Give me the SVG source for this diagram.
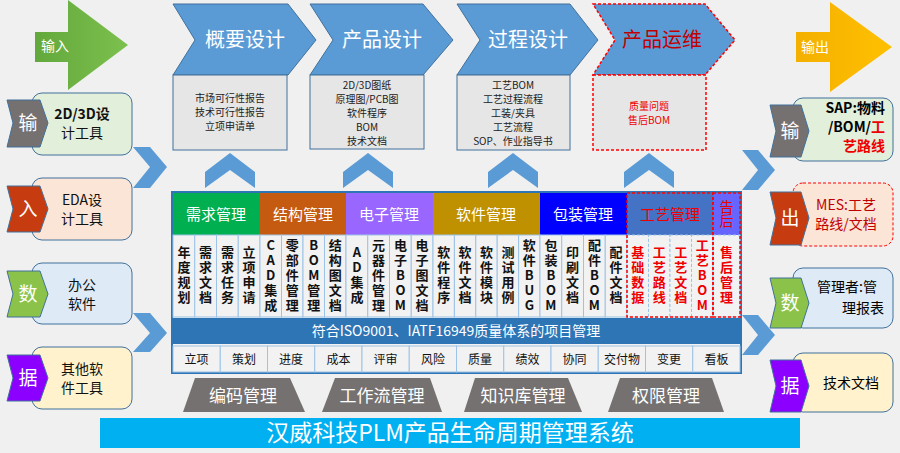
<svg xmlns="http://www.w3.org/2000/svg" width="900" height="453" viewBox="0 0 900 453">
<defs>
<style>
text{font-family:"Noto Sans CJK SC","Liberation Sans",sans-serif}
.chev{fill:#5b9bd5;stroke:#41719c;stroke-width:1}
.box{fill:#e7e6e6;stroke:#41719c;stroke-width:1}
.red{stroke:#ff0000;stroke-dasharray:3,2;stroke-width:1.5}
.ct{font-size:20px;fill:#fff;text-anchor:middle}
.bt{font-size:10px;fill:#222;text-anchor:middle}
.up{fill:#5b9bd5}
.hd{font-size:15px;fill:#fff;text-anchor:middle}
.cell{fill:#f2f2f2;stroke:#9dc3e6;stroke-width:1}
.vt,.vr{font-size:13px;text-anchor:middle;font-weight:bold;writing-mode:vertical-rl;text-orientation:upright;letter-spacing:2px}
.vt{fill:#111}
.vr{fill:#e00}
.sc{font-size:12px;fill:#111;text-anchor:middle}
.tab{font-size:19px;fill:#fff;text-anchor:middle}
.lb{font-size:14px;fill:#111;text-anchor:middle}
.trap{fill:#767171}
.tt{font-size:17px;fill:#fff;text-anchor:middle}
</style>
<linearGradient id="gG" x1="0" y1="0" x2="1" y2="0"><stop offset="0" stop-color="#63a83c"/><stop offset="1" stop-color="#7cc04e"/></linearGradient>
<linearGradient id="gY" x1="0" y1="0" x2="1" y2="0"><stop offset="0" stop-color="#f4b000"/><stop offset="1" stop-color="#ffc000"/></linearGradient>
</defs>
<rect width="900" height="453" fill="#f0f0f0"/>

<g id="input-arrow"><path d="M35,32 H68 V0 L128,45 L68,90 V62 H35 Z" fill="url(#gG)"/><text x="55" y="51" font-size="14" fill="#fff" text-anchor="middle">输入</text></g>
<g id="output-arrow"><path d="M796,32 H830 V2 L892,47 L830,92 V62 H796 Z" fill="url(#gY)"/><text x="815" y="52" font-size="14" fill="#fff" text-anchor="middle">输出</text></g>

<g id="stage1"><path class="chev" d="M173,4 H288 L316,40 L288,75 H173 L195,40 Z"/><text class="ct" x="245" y="47">概要设计</text>
<rect class="box" x="173" y="75" width="114" height="75"/><text class="bt" x="230" y="102">市场可行性报告</text><text class="bt" x="230" y="116">技术可行性报告</text><text class="bt" x="230" y="130">立项申请单</text></g>
<g id="stage2"><path class="chev" d="M310,4 H423 L453,40 L423,75 H310 L333,40 Z"/><text class="ct" x="382" y="47">产品设计</text>
<rect class="box" x="310" y="75" width="114" height="74"/><text class="bt" x="367" y="89">2D/3D图纸</text><text class="bt" x="367" y="103">原理图/PCB图</text><text class="bt" x="367" y="117">软件程序</text><text class="bt" x="367" y="131">BOM</text><text class="bt" x="367" y="145">技术文档</text></g>
<g id="stage3"><path class="chev" d="M457,4 H570 L598,40 L570,75 H457 L480,40 Z"/><text class="ct" x="528" y="47">过程设计</text>
<rect class="box" x="457" y="75" width="113" height="75"/><text class="bt" x="513" y="89">工艺BOM</text><text class="bt" x="513" y="103">工艺过程流程</text><text class="bt" x="513" y="117">工装/夹具</text><text class="bt" x="513" y="131">工艺流程</text><text class="bt" x="513" y="145">SOP、作业指导书</text></g>
<g id="stage4"><path class="chev red" d="M593,4 H705 L735,40 L705,75 H593 L615,40 Z"/><text class="ct" x="662" y="47" style="fill:#c00000">产品运维</text>
<rect class="box red" x="593" y="75" width="113" height="75"/><text class="bt" x="649" y="110" style="fill:#e00">质量问题</text><text class="bt" x="649" y="124" style="fill:#e00">售后BOM</text></g>

<g id="connectors">
<path class="up" d="M205,172 L230,153 L255,172 V188 L230,170 L205,188 Z"/>
<path class="up" d="M343,172 L368,153 L393,172 V188 L368,170 L343,188 Z"/>
<path class="up" d="M488,172 L513,153 L538,172 V188 L513,170 L488,188 Z"/>
<path class="up" d="M624,172 L649,153 L674,172 V188 L649,170 L624,188 Z"/>
<path class="up" d="M133,147 H150 L167,167 L150,188 H133 L150,167 Z"/>
<path class="up" d="M133,313 H150 L167,333 L150,352 H133 L150,333 Z"/>
<path class="up" d="M742,150 H758 L775,170 L758,190 H742 L758,170 Z"/>
<path class="up" d="M742,315 H758 L775,335 L758,355 H742 L758,335 Z"/>
</g>

<g id="grid">
<rect x="172" y="192" width="569" height="181" fill="#f2f2f2" stroke="#2e75b6" stroke-width="2"/>
<rect x="173" y="193" width="87" height="42" fill="#00b050"/><text class="hd" x="216" y="220">需求管理</text>
<rect x="260" y="193" width="86" height="42" fill="#c55a11"/><text class="hd" x="303" y="220">结构管理</text>
<rect x="346" y="193" width="87" height="42" fill="#9966ff"/><text class="hd" x="389" y="220">电子管理</text>
<rect x="433" y="193" width="107" height="42" fill="#bf9000"/><text class="hd" x="486" y="220">软件管理</text>
<rect x="540" y="193" width="87" height="42" fill="#0000ff"/><text class="hd" x="583" y="220">包装管理</text>
<rect x="627" y="193" width="86" height="42" fill="#4472c4"/><text class="hd" x="670" y="220" style="fill:#e00">工艺管理</text>
<rect x="713" y="193" width="27" height="42" fill="#6666ff"/><text class="hd" x="726.5" y="214" style="fill:#e00;writing-mode:vertical-rl;font-size:14px">告后</text>

<g class="cells">
<rect class="cell" x="173" y="235" width="21.75" height="82"/><rect class="cell" x="194.75" y="235" width="21.75" height="82"/><rect class="cell" x="216.5" y="235" width="21.75" height="82"/><rect class="cell" x="238.25" y="235" width="21.75" height="82"/>
<rect class="cell" x="260" y="235" width="21.5" height="82"/><rect class="cell" x="281.5" y="235" width="21.5" height="82"/><rect class="cell" x="303" y="235" width="21.5" height="82"/><rect class="cell" x="324.5" y="235" width="21.5" height="82"/>
<rect class="cell" x="346" y="235" width="21.75" height="82"/><rect class="cell" x="367.75" y="235" width="21.75" height="82"/><rect class="cell" x="389.5" y="235" width="21.75" height="82"/><rect class="cell" x="411.25" y="235" width="21.75" height="82"/>
<rect class="cell" x="433" y="235" width="21.4" height="82"/><rect class="cell" x="454.4" y="235" width="21.4" height="82"/><rect class="cell" x="475.8" y="235" width="21.4" height="82"/><rect class="cell" x="497.2" y="235" width="21.4" height="82"/><rect class="cell" x="518.6" y="235" width="21.4" height="82"/>
<rect class="cell" x="540" y="235" width="21.75" height="82"/><rect class="cell" x="561.75" y="235" width="21.75" height="82"/><rect class="cell" x="583.5" y="235" width="21.75" height="82"/><rect class="cell" x="605.25" y="235" width="21.75" height="82"/>
<rect class="cell red" x="627" y="235" width="21.5" height="82"/><rect class="cell red" x="648.5" y="235" width="21.5" height="82"/><rect class="cell red" x="670" y="235" width="21.5" height="82"/><rect class="cell red" x="691.5" y="235" width="21.5" height="82"/>
<rect class="cell red" x="713" y="235" width="27" height="82"/>
<rect x="627" y="193" width="86" height="124" fill="none" class="red"/><rect x="713" y="193" width="27" height="124" fill="none" class="red"/>
</g>

<g class="vtexts">
<text class="vt" x="183.9" y="276">年度规划</text>
<text class="vt" x="205.6" y="276">需求文档</text>
<text class="vt" x="227.4" y="276">需求任务</text>
<text class="vt" x="249.1" y="276">立项申请</text>
<text class="vt" x="270.75" y="276">CAD集成</text>
<text class="vt" x="292.25" y="276">零部件管理</text>
<text class="vt" x="313.75" y="276">BOM管理</text>
<text class="vt" x="335.25" y="276">结构图文档</text>
<text class="vt" x="356.9" y="276">AD集成</text>
<text class="vt" x="378.6" y="276">元器件管理</text>
<text class="vt" x="400.4" y="276">电子BOM</text>
<text class="vt" x="422.1" y="276">电子图文档</text>
<text class="vt" x="443.7" y="276">软件程序</text>
<text class="vt" x="465.1" y="276">软件文档</text>
<text class="vt" x="486.5" y="276">软件模块</text>
<text class="vt" x="507.9" y="276">测试用例</text>
<text class="vt" x="529.3" y="276">软件BUG</text>
<text class="vt" x="550.9" y="276">包装BOM</text>
<text class="vt" x="572.6" y="276">印刷文档</text>
<text class="vt" x="594.4" y="276">配件BOM</text>
<text class="vt" x="616.1" y="276">配件文档</text>
<text class="vr" x="637.75" y="276">基础数据</text>
<text class="vr" x="659.25" y="276">工艺路线</text>
<text class="vr" x="680.75" y="276">工艺文档</text>
<text class="vr" x="702.25" y="276">工艺BOM</text>
<text class="vr" x="726.5" y="276">售后管理</text>
</g>

<rect x="173" y="318" width="567" height="26" fill="#2e75b6"/>
<text x="456" y="336" font-size="14" fill="#fff" text-anchor="middle">符合ISO9001、IATF16949质量体系的项目管理</text>
<g class="row">
<rect class="cell" x="173" y="346" width="47.25" height="26"/><rect class="cell" x="220.25" y="346" width="47.25" height="26"/><rect class="cell" x="267.5" y="346" width="47.25" height="26"/><rect class="cell" x="314.75" y="346" width="47.25" height="26"/><rect class="cell" x="362" y="346" width="47.25" height="26"/><rect class="cell" x="409.25" y="346" width="47.25" height="26"/><rect class="cell" x="456.5" y="346" width="47.25" height="26"/><rect class="cell" x="503.75" y="346" width="47.25" height="26"/><rect class="cell" x="551" y="346" width="47.25" height="26"/><rect class="cell" x="598.25" y="346" width="47.25" height="26"/><rect class="cell" x="645.5" y="346" width="47.25" height="26"/><rect class="cell" x="692.75" y="346" width="47.25" height="26"/>
<text class="sc" x="196.6" y="364">立项</text><text class="sc" x="243.9" y="364">策划</text><text class="sc" x="291.1" y="364">进度</text><text class="sc" x="338.4" y="364">成本</text><text class="sc" x="385.6" y="364">评审</text><text class="sc" x="432.9" y="364">风险</text><text class="sc" x="480.1" y="364">质量</text><text class="sc" x="527.4" y="364">绩效</text><text class="sc" x="574.6" y="364">协同</text><text class="sc" x="621.9" y="364">交付物</text><text class="sc" x="669.1" y="364">变更</text><text class="sc" x="716.4" y="364">看板</text>
</g>
</g>

<g id="in1"><rect x="32" y="93" width="100" height="62" rx="10" fill="#e2efda" stroke="#41719c"/><path d="M7,100 H40 L48,123 L40,147 H7 L13,123 Z" fill="#767171" stroke="#41719c"/><text class="tab" x="28" y="130">输</text><text class="lb" x="82" y="119" font-weight="bold">2D/3D设</text><text class="lb" x="82" y="138">计工具</text></g>
<g id="in2"><rect x="32" y="178" width="100" height="62" rx="10" fill="#fbe5d6" stroke="#41719c"/><path d="M7,186 H40 L48,209 L40,232 H7 L13,209 Z" fill="#c63b0f" stroke="#41719c"/><text class="tab" x="28" y="216">入</text><text class="lb" x="82" y="205">EDA设</text><text class="lb" x="82" y="224">计工具</text></g>
<g id="in3"><rect x="32" y="263" width="100" height="61" rx="10" fill="#deebf7" stroke="#41719c"/><path d="M7,271 H40 L48,294 L40,317 H7 L13,294 Z" fill="#8bc34a" stroke="#41719c"/><text class="tab" x="28" y="301">数</text><text class="lb" x="82" y="290">办公</text><text class="lb" x="82" y="309">软件</text></g>
<g id="in4"><rect x="32" y="347" width="100" height="62" rx="10" fill="#fff2cc" stroke="#41719c"/><path d="M7,355 H40 L48,378 L40,401 H7 L13,378 Z" fill="#8b00ff" stroke="#41719c"/><text class="tab" x="28" y="385">据</text><text class="lb" x="82" y="374">其他软</text><text class="lb" x="82" y="393">件工具</text></g>

<g id="out1"><rect x="793" y="98" width="100" height="63" rx="10" fill="#e2efda" stroke="#41719c"/><path d="M770,105 H801 L809,131 L801,157 H770 L776,131 Z" fill="#767171" stroke="#41719c"/><text class="tab" x="790" y="138">输</text><text x="885" y="113" font-size="14" font-weight="bold" text-anchor="end">SAP:物料</text><text x="885" y="132" font-size="14" font-weight="bold" text-anchor="end">/BOM/<tspan fill="#e00">工</tspan></text><text x="885" y="151" font-size="14" font-weight="bold" fill="#e00" text-anchor="end">艺路线</text></g>
<g id="out2"><rect x="793" y="183" width="100" height="63" rx="10" fill="#fbe5d6" stroke="#ff0000" stroke-dasharray="3,2"/><path d="M770,192 H801 L809,218 L801,245 H770 L776,218 Z" fill="#c63b0f" stroke="#41719c"/><text class="tab" x="790" y="225">出</text><text x="846" y="210" font-size="14" fill="#c00000" text-anchor="middle">MES:工艺</text><text x="846" y="229" font-size="14" fill="#c00000" text-anchor="middle">路线/文档</text></g>
<g id="out3"><rect x="793" y="268" width="100" height="60" rx="10" fill="#deebf7" stroke="#41719c"/><path d="M770,278 H801 L809,303 L801,328 H770 L776,303 Z" fill="#8bc34a" stroke="#41719c"/><text class="tab" x="790" y="310">数</text><text x="847" y="292" font-size="14" text-anchor="middle">管理者:管</text><text x="884" y="313" font-size="14" text-anchor="end">理报表</text></g>
<g id="out4"><rect x="793" y="353" width="100" height="59" rx="10" fill="#fff2cc" stroke="#41719c"/><path d="M770,360 H801 L809,386 L801,412 H770 L776,386 Z" fill="#8b00ff" stroke="#41719c"/><text class="tab" x="790" y="393">据</text><text x="851" y="388" font-size="14" text-anchor="middle">技术文档</text></g>

<g id="bottom">
<path class="trap" d="M195,378 H290 L305,412 H183 Z"/><text class="tt" x="243" y="402">编码管理</text>
<path class="trap" d="M335,378 H430 L442,412 H322 Z"/><text class="tt" x="382" y="402">工作流管理</text>
<path class="trap" d="M475,378 H568 L582,412 H464 Z"/><text class="tt" x="523" y="402">知识库管理</text>
<path class="trap" d="M620,378 H712 L724,412 H608 Z"/><text class="tt" x="666" y="402">权限管理</text>
<rect x="100" y="418" width="700" height="30" fill="#00b0f0"/>
<text x="450" y="441" font-size="23" fill="#fff" text-anchor="middle">汉威科技PLM产品生命周期管理系统</text>
</g>
</svg>
